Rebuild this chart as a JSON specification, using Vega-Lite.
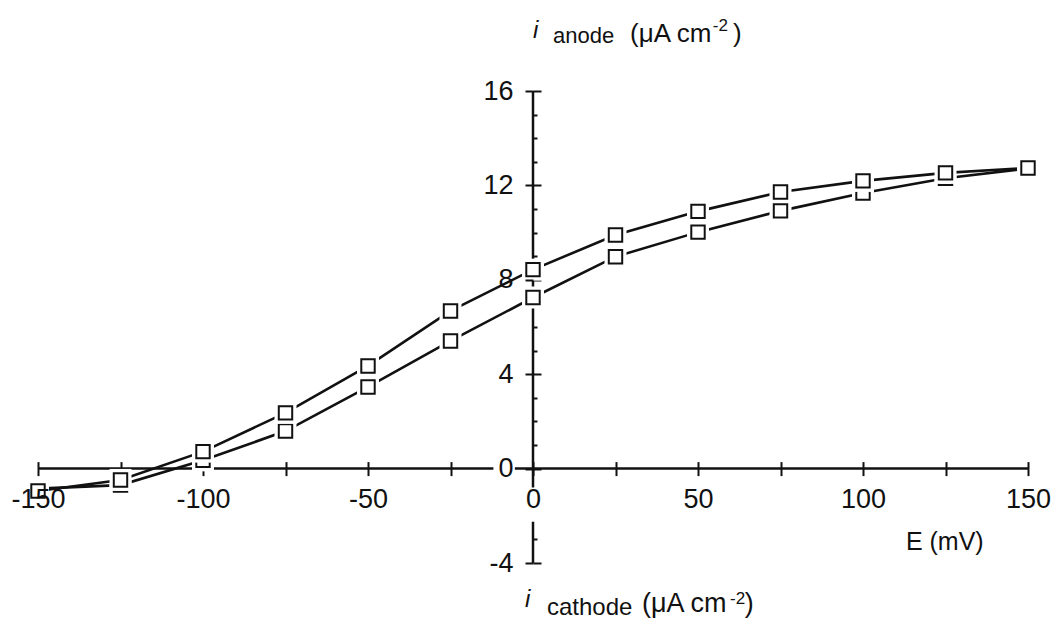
{
  "$schema": "https://vega.github.io/schema/vega-lite/v6.json",
  "width": 990,
  "height": 472,
  "autosize": "none",
  "padding": {"left": 38, "top": 91, "right": 28, "bottom": 61},
  "background": "white",
  "config": {
    "view": {"stroke": null},
    "axis": {"grid": false, "title": null, "domain": false, "labelFont": "Liberation Sans", "labelColor": "#111", "tickColor": "#111", "tickWidth": 2},
    "text": {"font": "Liberation Sans", "color": "#111"}
  },
  "data": {
    "values": [
      {"series": "A", "E": -150, "I": -0.95},
      {"series": "A", "E": -125, "I": -0.48},
      {"series": "A", "E": -100, "I": 0.72},
      {"series": "A", "E": -75, "I": 2.36},
      {"series": "A", "E": -50, "I": 4.35},
      {"series": "A", "E": -25, "I": 6.68},
      {"series": "A", "E": 0, "I": 8.43},
      {"series": "A", "E": 25, "I": 9.9},
      {"series": "A", "E": 50, "I": 10.9},
      {"series": "A", "E": 75, "I": 11.72},
      {"series": "A", "E": 100, "I": 12.19},
      {"series": "A", "E": 125, "I": 12.53},
      {"series": "A", "E": 150, "I": 12.74},
      {"series": "B", "E": -150, "I": -0.85},
      {"series": "B", "E": -125, "I": -0.7},
      {"series": "B", "E": -100, "I": 0.35},
      {"series": "B", "E": -75, "I": 1.59},
      {"series": "B", "E": -50, "I": 3.46},
      {"series": "B", "E": -25, "I": 5.41},
      {"series": "B", "E": 0, "I": 7.25},
      {"series": "B", "E": 25, "I": 8.98},
      {"series": "B", "E": 50, "I": 10.02},
      {"series": "B", "E": 75, "I": 10.92},
      {"series": "B", "E": 100, "I": 11.68},
      {"series": "B", "E": 125, "I": 12.3},
      {"series": "B", "E": 150, "I": 12.72}
    ]
  },
  "resolve": {"axis": {"x": "independent", "y": "independent"}},
  "layer": [
    {
      "data": {"values": [{}]},
      "mark": {"type": "rule", "color": "#111", "strokeWidth": 2.5},
      "encoding": {
        "x": {"datum": -150, "type": "quantitative", "scale": {"domain": [-150, 150], "nice": false, "zero": false}, "axis": null},
        "x2": {"datum": -12},
        "y": {"datum": 0, "type": "quantitative", "scale": {"domain": [-4, 16], "nice": false, "zero": false}, "axis": null}
      }
    },
    {
      "data": {"values": [{}]},
      "mark": {"type": "rule", "color": "#111", "strokeWidth": 2.5},
      "encoding": {
        "x": {"datum": -5.5, "type": "quantitative", "scale": {"domain": [-150, 150], "nice": false, "zero": false}, "axis": null},
        "x2": {"datum": 150},
        "y": {"datum": 0, "type": "quantitative", "scale": {"domain": [-4, 16], "nice": false, "zero": false}, "axis": null}
      }
    },
    {
      "data": {"values": [{}]},
      "mark": {"type": "rule", "color": "#111", "strokeWidth": 2.5},
      "encoding": {
        "x": {"datum": 0, "type": "quantitative", "scale": {"domain": [-150, 150], "nice": false, "zero": false}, "axis": null},
        "y": {"datum": 16, "type": "quantitative", "scale": {"domain": [-4, 16], "nice": false, "zero": false}, "axis": null},
        "y2": {"datum": -0.8}
      }
    },
    {
      "data": {"values": [{}]},
      "mark": {"type": "rule", "color": "#111", "strokeWidth": 2.5},
      "encoding": {
        "x": {"datum": 0, "type": "quantitative", "scale": {"domain": [-150, 150], "nice": false, "zero": false}, "axis": null},
        "y": {"datum": -2.25, "type": "quantitative", "scale": {"domain": [-4, 16], "nice": false, "zero": false}, "axis": null},
        "y2": {"datum": -4}
      }
    },
    {
      "transform": [{"filter": "datum.series === 'B'"}],
      "mark": {"type": "line", "color": "#111", "strokeWidth": 2.6},
      "encoding": {
        "x": {"field": "E", "type": "quantitative", "scale": {"domain": [-150, 150], "nice": false, "zero": false},
          "axis": {"orient": "bottom", "offset": -94.4, "values": [-150, -125, -100, -75, -50, -25, 0, 25, 50, 75, 100, 125, 150], "labels": false, "tickSize": 7}},
        "y": {"field": "I", "type": "quantitative", "scale": {"domain": [-4, 16], "nice": false, "zero": false},
          "axis": {"orient": "left", "offset": -495, "values": [-4, 0, 4, 8, 12, 16], "tickSize": 8, "labelPadding": 12, "labelFontSize": 27, "labelFlush": false, "labelOverlap": false, "labelExpr": "'' + datum.value", "zindex": 1}}
      }
    },
    {
      "transform": [{"filter": "datum.series === 'B'"}],
      "mark": {"type": "point", "shape": "square", "filled": true, "fill": "white", "strokeWidth": 0, "size": 484, "opacity": 1},
      "encoding": {
        "x": {"field": "E", "type": "quantitative", "scale": {"domain": [-150, 150], "nice": false, "zero": false},
          "axis": {"orient": "top", "offset": -377.6, "values": [-150, -125, -100, -75, -50, -25, 0, 25, 50, 75, 100, 125, 150], "labels": false, "tickSize": 7}},
        "y": {"field": "I", "type": "quantitative", "scale": {"domain": [-4, 16], "nice": false, "zero": false},
          "axis": {"orient": "right", "offset": -495, "values": [-4, 0, 4, 8, 12, 16], "labels": false, "tickSize": 8}}
      }
    },
    {
      "transform": [{"filter": "datum.series === 'B'"}],
      "mark": {"type": "point", "shape": "square", "filled": true, "fill": "white", "stroke": "#111", "strokeWidth": 2, "size": 180, "opacity": 1},
      "encoding": {
        "x": {"field": "E", "type": "quantitative", "scale": {"domain": [-150, 150], "nice": false, "zero": false}, "axis": null},
        "y": {"field": "I", "type": "quantitative", "scale": {"domain": [-4, 16], "nice": false, "zero": false},
          "axis": {"orient": "right", "offset": -495, "values": [-3, 1, 2, 3, 5, 6, 7, 9, 10, 11, 13, 14, 15], "labels": false, "tickSize": 4}}
      }
    },
    {
      "transform": [{"filter": "datum.series === 'A'"}],
      "mark": {"type": "line", "color": "#111", "strokeWidth": 2.6},
      "encoding": {
        "x": {"field": "E", "type": "quantitative", "scale": {"domain": [-150, 150], "nice": false, "zero": false}, "axis": null},
        "y": {"field": "I", "type": "quantitative", "scale": {"domain": [-4, 16], "nice": false, "zero": false}, "axis": null}
      }
    },
    {
      "transform": [{"filter": "datum.series === 'A'"}],
      "mark": {"type": "point", "shape": "square", "filled": true, "fill": "white", "strokeWidth": 0, "size": 484, "opacity": 1},
      "encoding": {
        "x": {"field": "E", "type": "quantitative", "scale": {"domain": [-150, 150], "nice": false, "zero": false}, "axis": null},
        "y": {"field": "I", "type": "quantitative", "scale": {"domain": [-4, 16], "nice": false, "zero": false}, "axis": null}
      }
    },
    {
      "transform": [{"filter": "datum.series === 'A'"}],
      "mark": {"type": "point", "shape": "square", "filled": true, "fill": "white", "stroke": "#111", "strokeWidth": 2, "size": 180, "opacity": 1},
      "encoding": {
        "x": {"field": "E", "type": "quantitative", "scale": {"domain": [-150, 150], "nice": false, "zero": false},
          "axis": {"orient": "bottom", "offset": -94.4, "values": [-150, -100, -50, 0, 50, 100, 150], "tickSize": 7, "tickOpacity": 0, "labelPadding": 11, "labelFontSize": 27, "labelFlush": false, "labelOverlap": false, "labelExpr": "'' + datum.value", "zindex": 1}},
        "y": {"field": "I", "type": "quantitative", "scale": {"domain": [-4, 16], "nice": false, "zero": false}, "axis": null}
      }
    },
    {
      "data": {"values": [{}]},
      "mark": {"type": "text", "text": "i", "fontStyle": "italic", "fontSize": 24, "align": "left", "baseline": "alphabetic"},
      "encoding": {
        "x": {"datum": 0, "type": "quantitative", "scale": {"domain": [-150, 150], "nice": false, "zero": false}, "axis": null},
        "y": {"datum": 18.25, "type": "quantitative", "scale": {"domain": [-4, 16], "nice": false, "zero": false}, "axis": null}
      }
    },
    {
      "data": {"values": [{}]},
      "mark": {"type": "text", "text": "anode", "fontSize": 22, "align": "left", "baseline": "alphabetic"},
      "encoding": {
        "x": {"datum": 6.06, "type": "quantitative", "scale": {"domain": [-150, 150], "nice": false, "zero": false}, "axis": null},
        "y": {"datum": 18.03, "type": "quantitative", "scale": {"domain": [-4, 16], "nice": false, "zero": false}, "axis": null}
      }
    },
    {
      "data": {"values": [{}]},
      "mark": {"type": "text", "text": "(μA cm", "fontSize": 26, "align": "left", "baseline": "alphabetic"},
      "encoding": {
        "x": {"datum": 29.4, "type": "quantitative", "scale": {"domain": [-150, 150], "nice": false, "zero": false}, "axis": null},
        "y": {"datum": 18.08, "type": "quantitative", "scale": {"domain": [-4, 16], "nice": false, "zero": false}, "axis": null}
      }
    },
    {
      "data": {"values": [{}]},
      "mark": {"type": "text", "text": "-2", "fontSize": 17, "align": "left", "baseline": "alphabetic"},
      "encoding": {
        "x": {"datum": 54.5, "type": "quantitative", "scale": {"domain": [-150, 150], "nice": false, "zero": false}, "axis": null},
        "y": {"datum": 18.55, "type": "quantitative", "scale": {"domain": [-4, 16], "nice": false, "zero": false}, "axis": null}
      }
    },
    {
      "data": {"values": [{}]},
      "mark": {"type": "text", "text": ")", "fontSize": 26, "align": "left", "baseline": "alphabetic"},
      "encoding": {
        "x": {"datum": 60.6, "type": "quantitative", "scale": {"domain": [-150, 150], "nice": false, "zero": false}, "axis": null},
        "y": {"datum": 18.08, "type": "quantitative", "scale": {"domain": [-4, 16], "nice": false, "zero": false}, "axis": null}
      }
    },
    {
      "data": {"values": [{}]},
      "mark": {"type": "text", "text": "i", "fontStyle": "italic", "fontSize": 24, "align": "left", "baseline": "alphabetic"},
      "encoding": {
        "x": {"datum": -2.42, "type": "quantitative", "scale": {"domain": [-150, 150], "nice": false, "zero": false}, "axis": null},
        "y": {"datum": -5.86, "type": "quantitative", "scale": {"domain": [-4, 16], "nice": false, "zero": false}, "axis": null}
      }
    },
    {
      "data": {"values": [{}]},
      "mark": {"type": "text", "text": "cathode", "fontSize": 24, "align": "left", "baseline": "alphabetic"},
      "encoding": {
        "x": {"datum": 4.24, "type": "quantitative", "scale": {"domain": [-150, 150], "nice": false, "zero": false}, "axis": null},
        "y": {"datum": -6.2, "type": "quantitative", "scale": {"domain": [-4, 16], "nice": false, "zero": false}, "axis": null}
      }
    },
    {
      "data": {"values": [{}]},
      "mark": {"type": "text", "text": "(μA cm", "fontSize": 27, "align": "left", "baseline": "alphabetic"},
      "encoding": {
        "x": {"datum": 33.0, "type": "quantitative", "scale": {"domain": [-150, 150], "nice": false, "zero": false}, "axis": null},
        "y": {"datum": -6.08, "type": "quantitative", "scale": {"domain": [-4, 16], "nice": false, "zero": false}, "axis": null}
      }
    },
    {
      "data": {"values": [{}]},
      "mark": {"type": "text", "text": "-2", "fontSize": 17, "align": "left", "baseline": "alphabetic"},
      "encoding": {
        "x": {"datum": 59.7, "type": "quantitative", "scale": {"domain": [-150, 150], "nice": false, "zero": false}, "axis": null},
        "y": {"datum": -5.75, "type": "quantitative", "scale": {"domain": [-4, 16], "nice": false, "zero": false}, "axis": null}
      }
    },
    {
      "data": {"values": [{}]},
      "mark": {"type": "text", "text": ")", "fontSize": 27, "align": "left", "baseline": "alphabetic"},
      "encoding": {
        "x": {"datum": 64.2, "type": "quantitative", "scale": {"domain": [-150, 150], "nice": false, "zero": false}, "axis": null},
        "y": {"datum": -6.08, "type": "quantitative", "scale": {"domain": [-4, 16], "nice": false, "zero": false}, "axis": null}
      }
    },
    {
      "data": {"values": [{}]},
      "mark": {"type": "text", "text": "E (mV)", "fontSize": 25, "align": "left", "baseline": "alphabetic"},
      "encoding": {
        "x": {"datum": 113, "type": "quantitative", "scale": {"domain": [-150, 150], "nice": false, "zero": false}, "axis": null},
        "y": {"datum": -3.45, "type": "quantitative", "scale": {"domain": [-4, 16], "nice": false, "zero": false}, "axis": null}
      }
    }
  ]
}
